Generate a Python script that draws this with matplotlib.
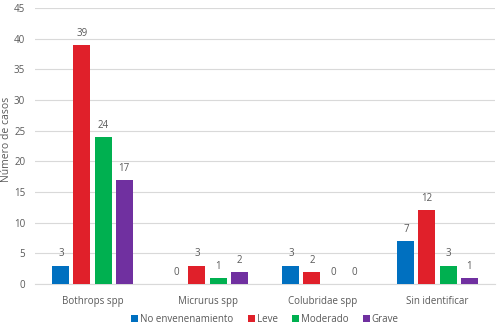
import matplotlib
matplotlib.use("Agg")
import matplotlib.pyplot as plt
import numpy as np

plt.rcParams['font.family'] = ['Open Sans', 'DejaVu Sans']

categories = ["Bothrops spp", "Micrurus spp", "Colubridae spp", "Sin identificar"]
series = ["No envenenamiento", "Leve", "Moderado", "Grave"]
no_env = [3, 0, 3, 7]
leve = [39, 3, 2, 12]
moderado = [24, 1, 0, 3]
grave = [17, 2, 0, 1]
values = [no_env, leve, moderado, grave]
colors = ["#0070C0", "#E0202A", "#00B050", "#7030A0"]
text_color = "#595959"
fs = 7

fig = plt.figure(figsize=(5, 3.27), dpi=100)
ax = fig.add_axes([0.07, 0.1315, 0.92, 0.844])

x = np.arange(len(categories))
slot = 0.183
width = 0.148
for i, (vals, c, name) in enumerate(zip(values, colors, series)):
    pos = x + (i - 1.5) * slot
    bars = ax.bar(pos, vals, width=width, color=c, label=name, zorder=3)
    for p, v in zip(pos, vals):
        ax.text(p, v + 1.0, str(v), ha='center', va='bottom', fontsize=fs, color=text_color)

ax.set_xlim(-0.5, len(categories) - 0.5)
ax.set_ylim(0, 45)
ax.set_yticks(np.arange(0, 46, 5))
ax.set_xticks(x)
ax.set_xticklabels(categories, fontsize=fs, color=text_color)
ax.tick_params(axis='y', labelsize=fs, colors=text_color, length=0, pad=7)
ax.tick_params(axis='x', length=0, pad=9)
ax.grid(axis='y', color='#D9D9D9', linewidth=0.8, zorder=0)
for s in ['top', 'right', 'left']:
    ax.spines[s].set_visible(False)
ax.spines['bottom'].set_color('#D9D9D9')
fig.text(7 / 500, 1 - 139 / 327, "Número de casos", rotation=90, ha='center', va='center',
         fontsize=7.5, color=text_color)

fig.legend(loc='lower center', bbox_to_anchor=(0.53, -0.02), ncol=4, frameon=False,
           fontsize=fs, handlelength=0.7, handleheight=0.7, handletextpad=0.2,
           columnspacing=1.5, labelcolor=text_color)

fig.savefig("out.png", dpi=100)
